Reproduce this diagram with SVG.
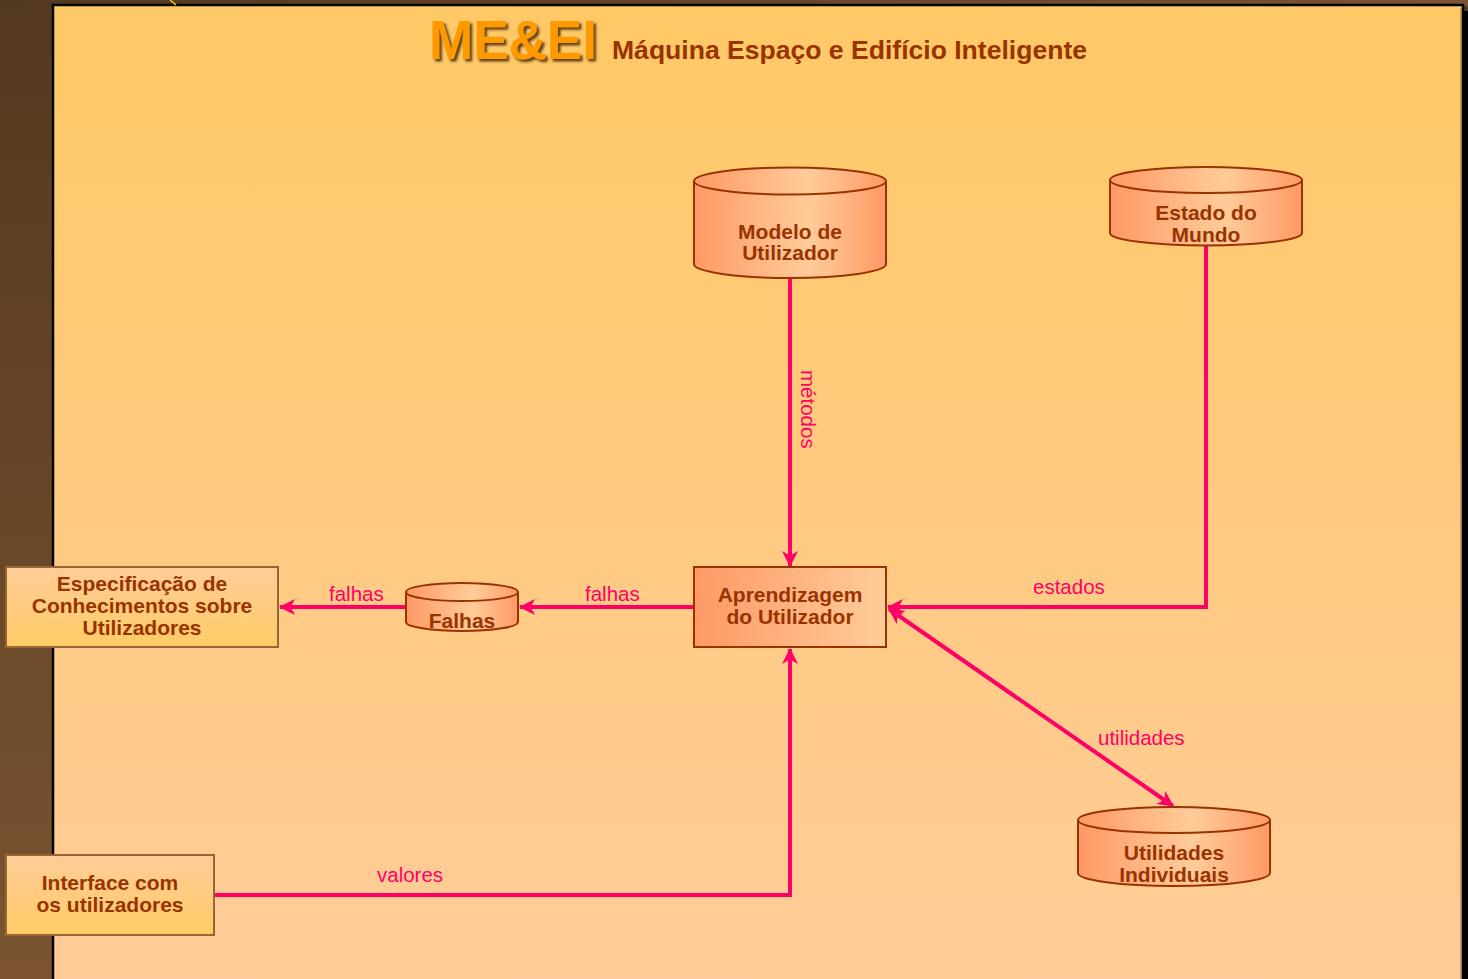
<svg xmlns="http://www.w3.org/2000/svg" width="1468" height="979" viewBox="0 0 1468 979">
  <defs>
    <linearGradient id="bgLeft" x1="0" y1="0" x2="0" y2="1">
      <stop offset="0" stop-color="#533820"/>
      <stop offset="1" stop-color="#7a5430"/>
    </linearGradient>
    <linearGradient id="bgTop" x1="0" y1="0" x2="1" y2="0">
      <stop offset="0" stop-color="#533820"/>
      <stop offset="1" stop-color="#7a5332"/>
    </linearGradient>
    <linearGradient id="panel" x1="0" y1="0" x2="0" y2="1">
      <stop offset="0" stop-color="#ffc966"/>
      <stop offset="1" stop-color="#ffcc99"/>
    </linearGradient>
    <linearGradient id="cyl" x1="0" y1="0" x2="1" y2="0">
      <stop offset="0" stop-color="#ff9966"/>
      <stop offset="0.6" stop-color="#ffcc99"/>
      <stop offset="1" stop-color="#ff9966"/>
    </linearGradient>
    <linearGradient id="boxH" x1="0" y1="0" x2="1" y2="0">
      <stop offset="0" stop-color="#ff9966"/>
      <stop offset="1" stop-color="#ffcc99"/>
    </linearGradient>
    <linearGradient id="boxV" x1="0" y1="0" x2="0" y2="1">
      <stop offset="0" stop-color="#ffcc99"/>
      <stop offset="1" stop-color="#ffcc66"/>
    </linearGradient>
    <filter id="titleShadow" x="-10%" y="-20%" width="130%" height="150%">
      <feDropShadow dx="2.5" dy="2.5" stdDeviation="0.8" flood-color="#4a2600" flood-opacity="0.85"/>
    </filter>
    <marker id="head" viewBox="0 0 16 16" markerWidth="16" markerHeight="16" refX="15" refY="8" orient="auto-start-reverse" markerUnits="userSpaceOnUse">
      <path d="M16,8 L0,0 L4.5,8 L0,16 Z" fill="#ff0066"/>
    </marker>
    <style>
      .node { fill: #993300; font-family: "Liberation Sans", Arial, sans-serif; font-weight: bold; font-size: 21px; text-anchor: middle; }
      .lbl { fill: #ff0066; font-family: "Liberation Sans", Arial, sans-serif; font-size: 20.5px; }
      .cyl { fill: url(#cyl); stroke: #993300; stroke-width: 2; }
      .wire { fill: none; stroke: #ff0066; stroke-width: 4; }
    </style>
  </defs>

  <!-- frame -->
  <rect x="0" y="0" width="1468" height="979" fill="url(#bgLeft)"/>
  <rect x="0" y="0" width="1468" height="6" fill="url(#bgTop)"/>
  <rect x="1462" y="11" width="6" height="968" fill="#000"/>
  <rect x="53" y="5" width="1410" height="980" fill="url(#panel)" stroke="#000" stroke-width="2.5"/>
  <line x1="1461" y1="8" x2="1461" y2="979" stroke="#8a6030" stroke-width="1"/>
  <line x1="170" y1="0" x2="176" y2="5" stroke="#ffcc00" stroke-width="1.5"/>

  <!-- title -->
  <g id="title">
    <text x="429" y="59" font-family="'Liberation Sans', Arial, sans-serif" font-weight="bold" font-size="56" fill="#ff9900" textLength="168" lengthAdjust="spacingAndGlyphs" filter="url(#titleShadow)">ME&amp;EI</text>
    <text x="612" y="59" font-family="'Liberation Sans', Arial, sans-serif" font-weight="bold" font-size="26.5" fill="#993300" textLength="475" lengthAdjust="spacingAndGlyphs">Máquina Espaço e Edifício Inteligente</text>
  </g>

  <!-- connectors -->
  <g id="connectors">
    <line class="wire" x1="790" y1="279" x2="790" y2="566" marker-end="url(#head)"/>
    <text class="lbl" transform="translate(801,370) rotate(90)">métodos</text>

    <polyline class="wire" points="1206,246 1206,607 888,607" marker-end="url(#head)"/>
    <text class="lbl" x="1033" y="594">estados</text>

    <line class="wire" x1="694" y1="607" x2="520" y2="607" marker-end="url(#head)"/>
    <text class="lbl" x="585" y="601">falhas</text>

    <line class="wire" x1="406" y1="607" x2="280" y2="607" marker-end="url(#head)"/>
    <text class="lbl" x="329" y="601">falhas</text>

    <polyline class="wire" points="214,895 790,895 790,649" marker-end="url(#head)"/>
    <text class="lbl" x="377" y="882">valores</text>

    <line class="wire" x1="889" y1="609" x2="1173" y2="806" marker-start="url(#head)" marker-end="url(#head)"/>
    <text class="lbl" x="1098" y="745">utilidades</text>
  </g>

  <!-- data stores -->
  <g id="modelo-utilizador">
    <path class="cyl" d="M694,181 L694,264 A96,14 0 0 0 886,264 L886,181"/>
    <ellipse class="cyl" cx="790" cy="181" rx="96" ry="13.5"/>
    <text class="node" x="790" y="239">Modelo de</text>
    <text class="node" x="790" y="260">Utilizador</text>
  </g>

  <g id="estado-mundo">
    <path class="cyl" d="M1110,180 L1110,233 A96,12.5 0 0 0 1302,233 L1302,180"/>
    <ellipse class="cyl" cx="1206" cy="180" rx="96" ry="13"/>
    <text class="node" x="1206" y="220">Estado do</text>
    <text class="node" x="1206" y="242">Mundo</text>
  </g>

  <g id="falhas">
    <path class="cyl" d="M406,592 L406,622 A56,9 0 0 0 518,622 L518,592"/>
    <ellipse class="cyl" cx="462" cy="592" rx="56" ry="9"/>
    <text class="node" x="462" y="628">Falhas</text>
  </g>

  <g id="utilidades-individuais">
    <path class="cyl" d="M1078,820 L1078,873 A96,13 0 0 0 1270,873 L1270,820"/>
    <ellipse class="cyl" cx="1174" cy="820" rx="96" ry="13"/>
    <text class="node" x="1174" y="860">Utilidades</text>
    <text class="node" x="1174" y="882">Individuais</text>
  </g>

  <!-- process / external boxes -->
  <g id="aprendizagem">
    <rect x="694" y="567" width="192" height="80" fill="url(#boxH)" stroke="#993300" stroke-width="2"/>
    <text class="node" x="790" y="602">Aprendizagem</text>
    <text class="node" x="790" y="624">do Utilizador</text>
  </g>

  <g id="especificacao">
    <rect x="6" y="567" width="272" height="80" fill="url(#boxV)" stroke="#996633" stroke-width="2"/>
    <text class="node" x="142" y="591">Especificação de</text>
    <text class="node" x="142" y="613">Conhecimentos sobre</text>
    <text class="node" x="142" y="635">Utilizadores</text>
  </g>

  <g id="interface">
    <rect x="6" y="855" width="208" height="80" fill="url(#boxV)" stroke="#996633" stroke-width="2"/>
    <text class="node" x="110" y="890">Interface com</text>
    <text class="node" x="110" y="912">os utilizadores</text>
  </g>
</svg>
